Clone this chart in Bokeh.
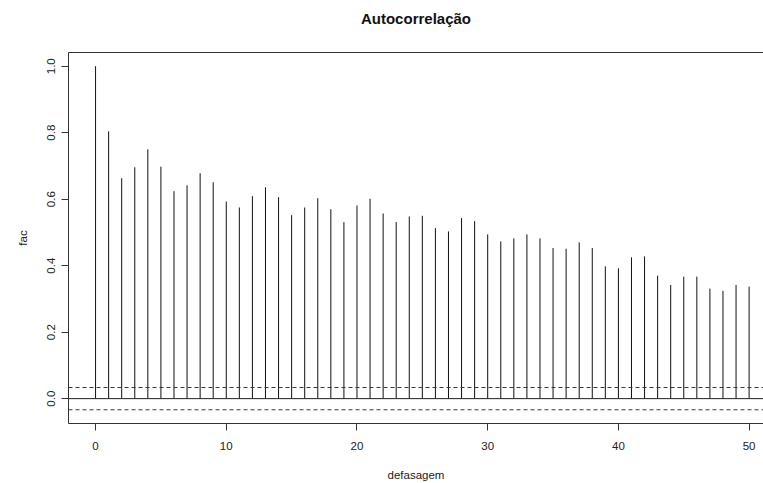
from bokeh.plotting import figure
from bokeh.models import (Range1d, FixedTicker, PrintfTickFormatter, Span,
                          LinearAxis)
from bokeh.embed import file_html
from bokeh.resources import INLINE

lags = list(range(0, 51))
acf = [1.000, 0.804, 0.663, 0.696, 0.750, 0.698, 0.624, 0.642, 0.678, 0.651,
       0.593, 0.575, 0.609, 0.636, 0.606, 0.552, 0.575, 0.603, 0.570, 0.531,
       0.581, 0.601, 0.557, 0.531, 0.548, 0.550, 0.513, 0.503, 0.543, 0.534,
       0.494, 0.473, 0.482, 0.494, 0.482, 0.453, 0.451, 0.470, 0.453, 0.398,
       0.392, 0.425, 0.428, 0.370, 0.342, 0.367, 0.367, 0.331, 0.324, 0.342,
       0.337]
ci = 0.0335
x_ticks = [0, 10, 20, 30, 40, 50]
y_ticks = [0.0, 0.2, 0.4, 0.6, 0.8, 1.0]
title_text = "Autocorrelação"

FONT = "Liberation Sans"
AX = "#333333"

p = figure(width=763, height=483, output_backend="svg", toolbar_location=None,
           x_range=Range1d(-2.07, 51.1), y_range=Range1d(-0.0748, 1.0413),
           min_border_left=68, min_border_right=0, min_border_top=52,
           min_border_bottom=60, background_fill_color="white",
           border_fill_color="white")
p.outline_line_color = None
p.xgrid.visible = False
p.ygrid.visible = False

p.segment(x0=lags, y0=[0] * len(lags), x1=lags, y1=acf,
          line_color="#111111", line_width=1)

p.add_layout(Span(location=0, dimension="width", line_color="#222222",
                  line_width=1))
for c in (ci, -ci):
    p.add_layout(Span(location=c, dimension="width", line_color="#2e2e8a",
                      line_width=1, line_dash="4 3"))

xa = p.xaxis[0]
xa.ticker = FixedTicker(ticks=x_ticks)
xa.axis_label = "defasagem"
ya = p.yaxis[0]
ya.ticker = FixedTicker(ticks=y_ticks)
ya.formatter = PrintfTickFormatter(format="%.1f")
ya.axis_label = "fac"
ya.major_label_orientation = "vertical"

for a in (xa, ya):
    a.axis_line_color = AX
    a.major_tick_line_color = AX
    a.major_tick_in = 0
    a.major_tick_out = 7
    a.minor_tick_line_color = None
    a.major_label_text_font = FONT
    a.major_label_text_font_size = "11.5px"
    a.major_label_text_color = "#222222"
    a.axis_label_text_font = FONT
    a.axis_label_text_font_size = "11.5px"
    a.axis_label_text_font_style = "normal"
    a.axis_label_text_color = "#222222"
xa.major_label_standoff = 11
xa.axis_label_standoff = 16
ya.major_label_standoff = 6
ya.axis_label_standoff = 16

# top box line, carrying the chart title as its label
top = LinearAxis(ticker=FixedTicker(ticks=[]), axis_line_color=AX,
                 major_tick_line_color=None, minor_tick_line_color=None,
                 major_tick_out=0, major_tick_in=0, major_label_standoff=0,
                 major_label_text_font_size="0px",
                 axis_label=title_text, axis_label_text_font=FONT,
                 axis_label_text_font_size="15px",
                 axis_label_text_font_style="bold",
                 axis_label_text_color="#111111",
                 axis_label_standoff=26)
p.add_layout(top, "above")

open("out.html", "w").write(file_html(p, INLINE))
